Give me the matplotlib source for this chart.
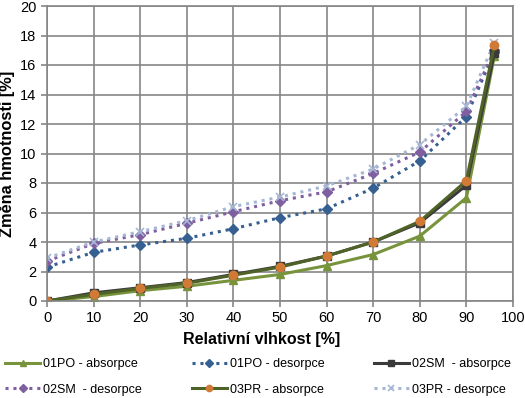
import matplotlib
matplotlib.use("Agg")
import matplotlib.pyplot as plt

plt.rcParams['font.family'] = ['Liberation Sans', 'DejaVu Sans']

rh = [0, 10, 20, 30, 40, 50, 60, 70, 80, 90, 96]
po_abs = [0.0, 0.3, 0.7, 1.0, 1.4, 1.8, 2.4, 3.15, 4.4, 7.0, 16.6]
po_des = [2.3, 3.3, 3.8, 4.25, 4.9, 5.65, 6.25, 7.65, 9.5, 12.5, 16.9]
sm_abs = [0.0, 0.55, 0.9, 1.25, 1.8, 2.35, 3.05, 4.0, 5.3, 7.85, 16.8]
sm_des = [2.7, 3.9, 4.5, 5.27, 6.05, 6.8, 7.4, 8.65, 10.1, 12.85, 17.0]
pr_abs = [0.0, 0.45, 0.86, 1.2, 1.75, 2.3, 3.05, 4.0, 5.4, 8.15, 17.35]
pr_des = [2.9, 4.0, 4.7, 5.45, 6.4, 7.05, 7.8, 8.95, 10.6, 13.2, 17.5]

labels = ["01PO - absorpce", "01PO - desorpce", "02SM  - absorpce",
          "02SM  - desorpce", "03PR - absorpce", "03PR - desorpce"]
x_ticks = list(range(0, 101, 10))
y_ticks = list(range(0, 21, 2))

fig = plt.figure(figsize=(5.25, 3.98), dpi=100)
ax = fig.add_axes([47/525, 1-301/398, (513-47)/525, (301-6)/398])

styles = [
    dict(color='#77933C', ls='-', lw=2.2, marker='^', ms=6, mfc='#77933C', mec='#77933C'),
    dict(color='#376092', ls=(0, (1, 1.6)), lw=2.2, marker='D', ms=5, mfc='#376092', mec='#376092'),
    dict(color='#3A3A3A', ls='-', lw=2.2, marker='s', ms=6, mfc='#3A3A3A', mec='#3A3A3A'),
    dict(color='#7F5FA0', ls=(0, (1, 1.6)), lw=2.2, marker='D', ms=5, mfc='#7F5FA0', mec='#7F5FA0'),
    dict(color='#4F6228', ls='-', lw=2.2, marker='o', ms=6, mfc='#D07A35', mec='#D07A35'),
    dict(color='#A5B7D5', ls=(0, (1, 1.6)), lw=2.2, marker='x', ms=6, mfc='#A5B7D5', mec='#A5B7D5', mew=1.2),
]
series = [po_abs, po_des, sm_abs, sm_des, pr_abs, pr_des]
draw_order = [0, 1, 3, 5, 2, 4]
handles = [None]*6
for i in draw_order:
    h, = ax.plot(rh, series[i], label=labels[i], **styles[i])
    handles[i] = h

ax.set_xlim(0, 100)
ax.set_ylim(0, 20)
ax.set_xticks(x_ticks)
ax.set_yticks(y_ticks)
ax.grid(True, color='#868686', lw=1.2)
ax.set_axisbelow(True)
for s in ax.spines.values():
    s.set_color('#868686')
    s.set_linewidth(1.2)
ax.tick_params(axis='both', labelsize=10.5, color='#868686', length=4, width=1.2)
ax.set_xlabel("Relativní vlhkost [%]", fontsize=11.5, fontweight='bold', labelpad=4)
ax.xaxis.set_label_coords((262-47)/466, -0.105)
ax.set_ylabel("Změna hmotnosti [%]", fontsize=11.8, fontweight='bold', labelpad=4)

leg_order = [0, 3, 1, 4, 2, 5]
fig.legend(handles=[handles[i] for i in leg_order], labels=[labels[i] for i in leg_order],
           loc='lower left', bbox_to_anchor=(0.003, -0.004),
           ncol=3, frameon=False, fontsize=9, handlelength=2.8, handletextpad=0.25,
           columnspacing=3.95, borderaxespad=0.1, borderpad=0.2, labelspacing=1.1,
           markerscale=0.75)

fig.savefig("out.png", dpi=100)
